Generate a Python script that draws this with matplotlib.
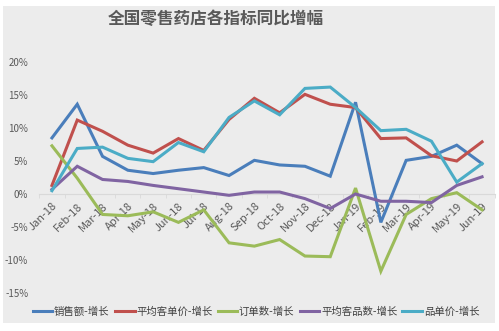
import matplotlib.pyplot as plt
from matplotlib.patches import Rectangle
from matplotlib.ticker import FixedLocator

plt.rcParams['font.family'] = ['Noto Sans CJK SC', 'DejaVu Sans']

months = ['Jan-18', 'Feb-18', 'Mar-18', 'Apr-18', 'May-18', 'Jun-18', 'Jul-18', 'Aug-18',
          'Sep-18', 'Oct-18', 'Nov-18', 'Dec-18', 'Jan-19', 'Feb-19', 'Mar-19', 'Apr-19',
          'May-19', 'Jun-19']

sales = [8.5, 13.6, 5.7, 3.6, 3.1, 3.6, 4.0, 2.8, 5.1, 4.4, 4.2, 2.7, 13.9, -4.3, 5.1, 5.7, 7.4, 4.6]
avg_order_price = [1.3, 11.2, 9.5, 7.4, 6.2, 8.4, 6.6, 11.3, 14.5, 12.3, 15.1, 13.6, 13.1, 8.4, 8.5, 5.8, 5.0, 7.9]
orders = [7.3, 2.4, -3.1, -3.3, -2.7, -4.3, -2.4, -7.4, -7.9, -6.9, -9.4, -9.5, 0.9, -11.7, -3.1, -0.7, 0.2, -2.4]
avg_items = [0.7, 4.2, 2.2, 1.9, 1.3, 0.8, 0.3, -0.2, 0.3, 0.3, -0.7, -2.2, 0.0, -1.1, -1.1, -1.3, 1.3, 2.6]
item_price = [0.5, 6.9, 7.1, 5.4, 4.9, 7.8, 6.4, 11.6, 14.1, 12.0, 16.0, 16.2, 13.1, 9.6, 9.8, 8.0, 1.8, 4.6]

names = ['销售额-增长', '平均客单价-增长', '订单数-增长', '平均客品数-增长', '品单价-增长']
colors = ['#4a7ebb', '#c0504d', '#9bbb59', '#8064a2', '#4bacc6']
series = [sales, avg_order_price, orders, avg_items, item_price]

fig = plt.figure(figsize=(4.99, 3.31), dpi=100, facecolor='white')
# grey chart area
fig.patches.append(Rectangle((3 / 499, 8 / 331), 492 / 499, 317 / 331,
                             transform=fig.transFigure, facecolor='#ececec',
                             edgecolor='none', zorder=-10))

ax = fig.add_axes([39.3 / 499, 38 / 331, 455.4 / 499, 231 / 331])
ax.set_facecolor('none')

x = list(range(len(months)))
for vals, name, c in zip(series, names, colors):
    ax.plot(x, vals, color=c, lw=2.2, label=name, solid_joinstyle='miter')

ax.set_xlim(-0.5, len(months) - 0.5)
ax.set_ylim(-15, 20)
ax.set_yticks([-15, -10, -5, 0, 5, 10, 15, 20])
ax.set_yticklabels([f'{v}%' for v in [-15, -10, -5, 0, 5, 10, 15, 20]])

for s in ['top', 'right', 'left']:
    ax.spines[s].set_visible(False)
ax.spines['bottom'].set_position(('data', 0))
ax.spines['bottom'].set_color('#d9d9d9')
ax.spines['bottom'].set_zorder(0)

ax.set_xticks(x)
ax.set_xticklabels(months, rotation=45, ha='right', rotation_mode='anchor')
ax.xaxis.set_minor_locator(FixedLocator([i - 0.5 for i in range(len(months) + 1)]))
ax.tick_params(axis='x', which='major', length=0, pad=5, labelsize=8, labelcolor='#595959')
ax.tick_params(axis='x', which='minor', length=3, color='#d9d9d9', direction='out')
ax.tick_params(axis='y', length=0, pad=8, labelsize=7, labelcolor='#595959')

fig.text(216 / 499, 1 - 19 / 331, '全国零售药店各指标同比增幅', ha='center', va='center',
         fontsize=12, fontweight='bold', color='#595959')

fig.legend(loc='center', bbox_to_anchor=(256 / 499, 1 - 312 / 331), ncol=5, frameon=False,
           fontsize=7.5, handlelength=1.9, handletextpad=0.15, columnspacing=0.5,
           labelcolor='#404040')

fig.savefig('out.png', dpi=100, facecolor='white')
